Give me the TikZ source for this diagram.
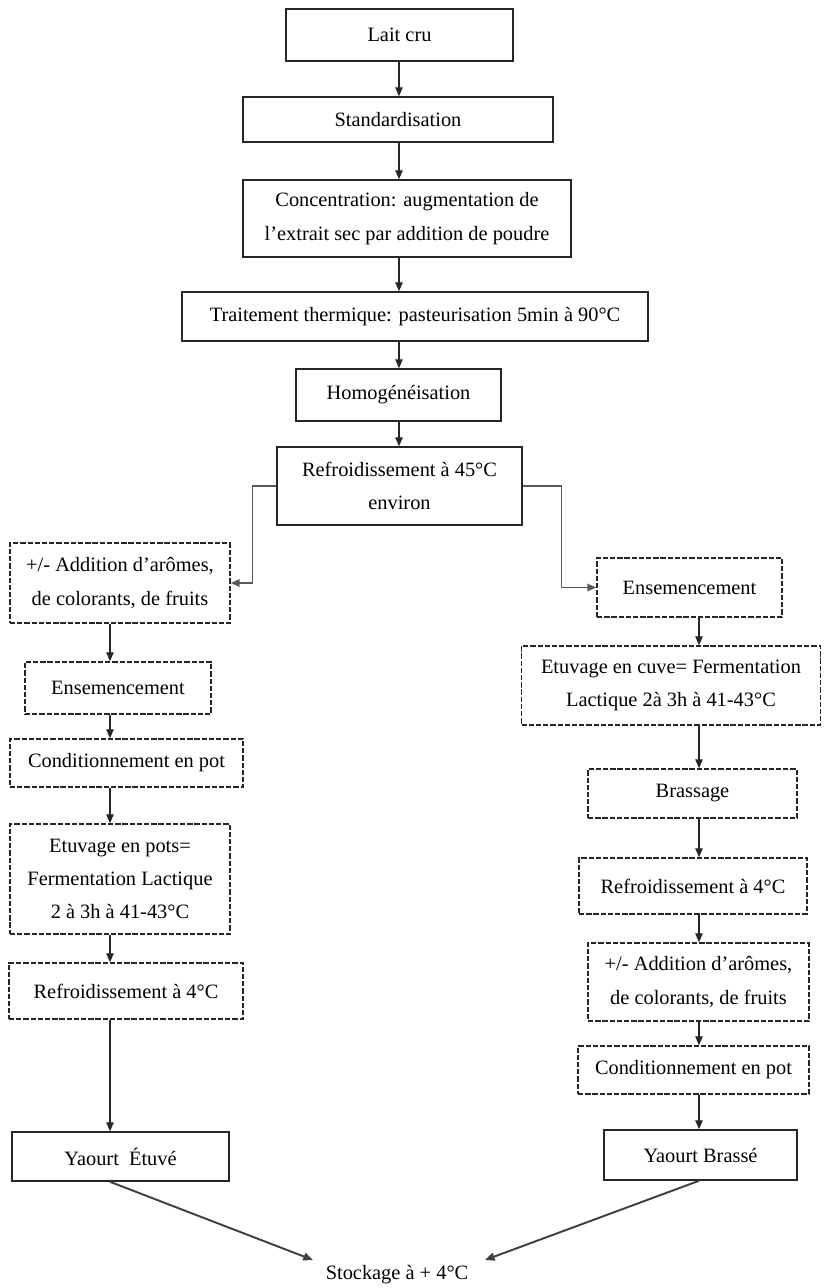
\documentclass[tikz,border=0pt]{standalone}
\usepackage{fontspec}
\setmainfont{Liberation Serif}
\usetikzlibrary{arrows.meta}
\begin{document}
\begin{tikzpicture}[x=0.02cm,y=-0.02cm,
  font=\fontsize{11.6}{19}\selectfont,
  solidbox/.style={draw=black!85, line width=0.9pt, inner sep=0pt, align=center},
  dashbox/.style={draw=black!85, line width=0.9pt, dash pattern=on 3pt off 1.1pt, inner sep=0pt, align=center},
  flow/.style={draw=black!85, line width=0.6pt, -{Triangle[length=5pt,width=4.2pt]}},
  branch/.style={draw=black!65, line width=0.8pt, -{Triangle[length=5pt,width=4.2pt]}},
  diag/.style={draw=black!75, line width=1.1pt, -{Triangle[length=5.5pt,width=4.5pt]}}]
\useasboundingbox (0,0) rectangle (823,1288);
\fill[white] (0,0) rectangle (823,1288);
% guide coordinates for arrow columns
\coordinate (ax) at (399,0);
\coordinate (lx) at (110,0);
\coordinate (rx) at (699,0);
% main column
\node[solidbox, minimum width=4.54cm, minimum height=1.04cm] (lait) at (399.5,35) {Lait cru};
\node[solidbox, minimum width=6.2cm, minimum height=0.9cm] (std) at (398,119.5) {Standardisation};
\node[solidbox, minimum width=6.56cm, minimum height=1.54cm] (conc) at (407,218.5) {Concentration: augmentation de\\ l’extrait sec par addition de poudre};
\node[solidbox, minimum width=9.32cm, minimum height=0.98cm] (trait) at (415,316.5) {Traitement thermique: pasteurisation 5min à 90°C};
\node[solidbox, minimum width=4.1cm, minimum height=1.04cm] (homog) at (398.5,395) {Homogénéisation};
\node[solidbox, minimum width=4.9cm, minimum height=1.56cm] (refr) at (399.5,486) {Refroidissement à 45°C\\ environ};
% left column
\node[dashbox, minimum width=4.4cm, minimum height=1.6cm] (L1) at (120,583) {+/- Addition d’arômes,\\ de colorants, de fruits};
\node[dashbox, minimum width=3.72cm, minimum height=1.04cm] (L2) at (118,688) {Ensemencement};
\node[dashbox, minimum width=4.66cm, minimum height=0.96cm] (L3) at (126.5,763) {Conditionnement en pot};
\node[dashbox, minimum width=4.4cm, minimum height=2.2cm] (L4) at (120,879) {Etuvage en pots=\\ Fermentation Lactique\\ 2 à 3h à 41-43°C};
\node[dashbox, minimum width=4.68cm, minimum height=1.12cm] (L5) at (126,991) {Refroidissement à 4°C};
\node[solidbox, minimum width=4.34cm, minimum height=0.98cm] (L6) at (120.5,1156.5) {Yaourt~ Étuvé};
% right column
\node[dashbox, minimum width=3.7cm, minimum height=1.18cm] (R1) at (689.5,587.5) {Ensemencement};
\node[dashbox, minimum width=5.98cm, minimum height=1.58cm] (R2) at (671,685.5) {Etuvage en cuve= Fermentation\\ Lactique 2à 3h à 41-43°C};
\node[dashbox, minimum width=4.18cm, minimum height=0.98cm] (R3) at (692.5,793.5) {Brassage};
\node[dashbox, minimum width=4.56cm, minimum height=1.12cm] (R4) at (693,886) {Refroidissement à 4°C};
\node[dashbox, minimum width=4.42cm, minimum height=1.56cm] (R5) at (698.5,982) {+/- Addition d’arômes,\\ de colorants, de fruits};
\node[dashbox, minimum width=4.62cm, minimum height=0.96cm] (R6) at (693.5,1070) {Conditionnement en pot};
\node[solidbox, minimum width=3.86cm, minimum height=1.0cm] (R7) at (700.5,1155) {Yaourt Brassé};
% final
\node[inner sep=0pt] (stock) at (397,1275) {Stockage à + 4°C};
\coordinate (sl) at (313,1260);
\coordinate (sr) at (485,1260);
% main arrows
\draw[flow] (lait.south -| ax) -- (std.north -| ax);
\draw[flow] (std.south -| ax) -- (conc.north -| ax);
\draw[flow] (conc.south -| ax) -- (trait.north -| ax);
\draw[flow] (trait.south -| ax) -- (homog.north -| ax);
\draw[flow] (homog.south -| ax) -- (refr.north -| ax);
% branches
\draw[branch] (refr.west) -- ++(-24,0) |- (L1.east);
\draw[branch] (refr.east) -- ++(39,0) |- (R1.west);
% left arrows
\draw[flow] (L1.south -| lx) -- (L2.north -| lx);
\draw[flow] (L2.south -| lx) -- (L3.north -| lx);
\draw[flow] (L3.south -| lx) -- (L4.north -| lx);
\draw[flow] (L4.south -| lx) -- (L5.north -| lx);
\draw[flow] (L5.south -| lx) -- (L6.north -| lx);
% right arrows
\draw[flow] (R1.south -| rx) -- (R2.north -| rx);
\draw[flow] (R2.south -| rx) -- (R3.north -| rx);
\draw[flow] (R3.south -| rx) -- (R4.north -| rx);
\draw[flow] (R4.south -| rx) -- (R5.north -| rx);
\draw[flow] (R5.south -| rx) -- (R6.north -| rx);
\draw[flow] (R6.south -| rx) -- (R7.north -| rx);
% to storage
\draw[diag] (L6.south -| lx) -- (sl);
\draw[diag] (R7.south -| rx) -- (sr);
\end{tikzpicture}
\end{document}
